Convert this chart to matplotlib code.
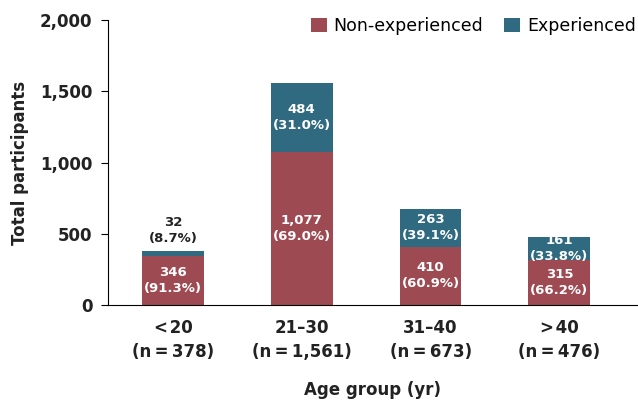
import numpy as np
from matplotlib import pyplot as plt

groups = ['<\u200a20\n(n\u2009=\u2009378)', '21\u201330\n(n\u2009=\u20091,561)',
          '31\u201340\n(n\u2009=\u2009673)', '>\u200a40\n(n\u2009=\u2009476)']
non_exp = [346, 1077, 410, 315]
exp = [32, 484, 263, 161]
non_pct = ['91.3%', '69.0%', '60.9%', '66.2%']
exp_pct = ['8.7%', '31.0%', '39.1%', '33.8%']

red = '#9E4A53'
blue = '#2F6A80'

plt.rcParams['font.family'] = ['DejaVu Sans']
fig = plt.figure(figsize=(6.38, 4.03), dpi=100)
ax = fig.add_axes([0.169, 0.243, 0.831, 0.707])

x = np.arange(len(groups))
w = 0.48
ax.bar(x, non_exp, w, color=red, label='Non-experienced')
ax.bar(x, exp, w, bottom=non_exp, color=blue, label='Experienced')

for i in range(len(groups)):
    ax.text(x[i], non_exp[i] / 2, f'{non_exp[i]:,}\n({non_pct[i]})', ha='center', va='center',
            color='white', fontsize=9.5, fontweight='semibold', linespacing=1.3)
    if exp[i] < 100:
        ax.text(x[i], non_exp[i] + exp[i] + 45, f'{exp[i]:,}\n({exp_pct[i]})', ha='center', va='bottom',
                color='#222222', fontsize=9.5, fontweight='semibold', linespacing=1.3)
    else:
        ax.text(x[i], non_exp[i] + exp[i] / 2, f'{exp[i]:,}\n({exp_pct[i]})', ha='center', va='center',
                color='white', fontsize=9.5, fontweight='semibold', linespacing=1.3)

ax.set_xlim(-0.505, 3.61)
ax.set_ylim(0, 2000)
ax.set_yticks([0, 500, 1000, 1500, 2000])
ax.set_yticklabels(['0', '500', '1,000', '1,500', '2,000'])
ax.set_xticks(x)
ax.set_xticklabels(groups, linespacing=1.4)
ax.tick_params(axis='x', length=0, pad=10)
ax.tick_params(axis='y', length=5, pad=6)
for lab in ax.get_xticklabels() + ax.get_yticklabels():
    lab.set_fontsize(12)
    lab.set_fontweight('bold')
    lab.set_color('#222222')
ax.spines['top'].set_visible(False)
ax.spines['right'].set_visible(False)
ax.set_ylabel('Total participants', fontsize=12, fontweight='bold', color='#222222', labelpad=8)
ax.set_xlabel('Age group (yr)', fontsize=12, fontweight='bold', color='#222222', labelpad=15)

ax.legend(loc='upper right', bbox_to_anchor=(1.025, 1.065), ncol=2, frameon=False, fontsize=12.5,
          handlelength=0.9, handleheight=0.9, handletextpad=0.4, columnspacing=1.2)

plt.savefig('out.png', dpi=100)
